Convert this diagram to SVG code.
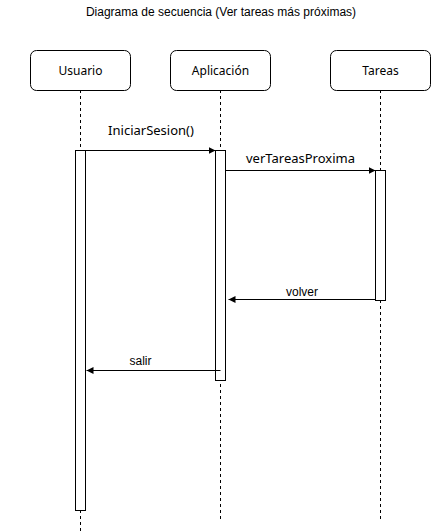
<svg xmlns="http://www.w3.org/2000/svg" width="441" height="531" viewBox="0 0 441 531">
<style>
.box{fill:#fff;stroke:#000;stroke-width:1}
.life{stroke:#000;stroke-width:1;stroke-dasharray:3 3;fill:none}
.act{fill:#fff;stroke:#000;stroke-width:1}
.msg{stroke:#000;stroke-width:1;fill:none;marker-end:url(#arr)}
.lbl{font-family:"Noto Sans","Open Sans",sans-serif;font-size:12px;fill:#000;text-anchor:middle}
.clbl{font-family:"Noto Sans","Open Sans",sans-serif;font-size:13px;fill:#000;text-anchor:middle}
.mlbl{font-family:"Liberation Sans",Arial,sans-serif;font-size:12px;fill:#000;text-anchor:middle}
.title{font-family:"Liberation Sans",Arial,sans-serif;font-size:12px;fill:#000;text-anchor:middle}
</style>
<defs>
<marker id="arr" viewBox="0 0 10 10" refX="10" refY="5" markerWidth="7" markerHeight="7" markerUnits="userSpaceOnUse" orient="auto">
<path d="M0,0 L10,5 L0,10 Z" fill="#000"/>
</marker>
</defs>
<rect width="441" height="531" fill="#fff"/>
<text class="title" x="221" y="16">Diagrama de secuencia (Ver tareas más próximas)</text>
<g id="usuario">
<line class="life" x1="80.5" y1="90" x2="80.5" y2="531"/>
<rect class="box" x="30.5" y="50.5" width="100" height="40" rx="6"/>
<text class="lbl" x="80.5" y="75">Usuario</text>
<rect class="act" x="75.5" y="150.5" width="10" height="360"/>
</g>
<g id="aplicacion">
<line class="life" x1="220.5" y1="90" x2="220.5" y2="520"/>
<rect class="box" x="170.5" y="50.5" width="100" height="40" rx="6"/>
<text class="lbl" x="220.5" y="75">Aplicación</text>
<rect class="act" x="215.5" y="150.5" width="10" height="230"/>
</g>
<g id="tareas">
<line class="life" x1="380.5" y1="90" x2="380.5" y2="520"/>
<rect class="box" x="330.5" y="50.5" width="100" height="40" rx="6"/>
<text class="lbl" x="380.5" y="75">Tareas</text>
<rect class="act" x="375.5" y="170.5" width="10" height="130"/>
</g>
<g id="connectors">
<line class="msg" x1="85.5" y1="150.5" x2="215.5" y2="150.5"/>
<text class="clbl" x="151" y="135">IniciarSesion()</text>
<line class="msg" x1="225.5" y1="170.5" x2="375.5" y2="170.5"/>
<text class="clbl" x="300.5" y="163">verTareasProxima</text>
<line class="msg" x1="375.5" y1="299.5" x2="228.5" y2="299.5"/>
<text class="mlbl" x="302" y="296">volver</text>
<line class="msg" x1="220.5" y1="370.5" x2="86.5" y2="370.5"/>
<text class="mlbl" x="140.5" y="365">salir</text>
</g>
</svg>
